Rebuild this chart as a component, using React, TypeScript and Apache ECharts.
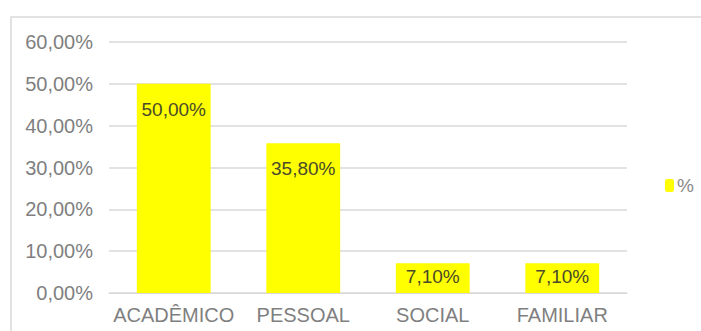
import React, { useEffect, useRef } from "react";
import * as echarts from "echarts";

const categories = ["ACADÊMICO", "PESSOAL", "SOCIAL", "FAMILIAR"];
const values = [50.0, 35.8, 7.1, 7.1];
const seriesName = "%";
const yMin = 0;
const yMax = 60;
const yInterval = 10;

const fmt = (v: number) => v.toFixed(2).replace(".", ",") + "%";

export default function App() {
  const ref = useRef<HTMLDivElement>(null);
  useEffect(() => {
    if (!ref.current) return;
    const chart = echarts.init(ref.current, null, { renderer: "svg" });
    const font = "Liberation Sans";
    chart.setOption({
      animation: false,
      backgroundColor: "#ffffff",
      graphic: [
        {
          type: "rect",
          shape: { x: 11, y: 17, width: 800, height: 400 },
          style: { fill: "none", stroke: "#d9d9d9", lineWidth: 1.5 },
          silent: true,
        },
      ],
      grid: { left: 109, right: 74, top: 42, bottom: 38 },
      legend: {
        data: [seriesName],
        orient: "vertical",
        left: 660,
        top: 171,
        itemWidth: 9,
        itemHeight: 13,
        itemGap: 4,
        textStyle: { fontFamily: font, fontSize: 19, color: "#8a8a8a", padding: [0, 0, 0, -2] },
      },
      xAxis: {
        type: "category",
        data: categories,
        axisLine: { lineStyle: { color: "#d9d9d9", width: 1 } },
        axisTick: { show: false },
        axisLabel: { fontFamily: font, fontSize: 20, color: "#7f7f7f", margin: 12, interval: 0 },
      },
      yAxis: {
        type: "value",
        min: yMin,
        max: yMax,
        interval: yInterval,
        axisLine: { show: false },
        axisTick: { show: false },
        splitLine: { lineStyle: { color: "#d9d9d9", width: 1.5 } },
        axisLabel: {
          fontFamily: font,
          fontSize: 20,
          color: "#7f7f7f",
          margin: 16,
          formatter: (v: number) => fmt(v),
        },
      },
      series: [
        {
          name: seriesName,
          type: "bar",
          barWidth: "57%",
          itemStyle: { color: "#ffff00" },
          data: values.map((v) => ({
            value: v,
            label: { distance: v > 20 ? 16 : 4 },
          })),
          label: {
            show: true,
            position: "insideTop",
            fontFamily: font,
            fontSize: 19,
            color: "#4a4a2a",
            formatter: (p: any) => fmt(p.value),
          },
        },
      ],
    });
    return () => chart.dispose();
  }, []);
  return (
    <div
      ref={ref}
      style={{ position: "absolute", left: 0, top: 0, width: 701, height: 331 }}
    />
  );
}
